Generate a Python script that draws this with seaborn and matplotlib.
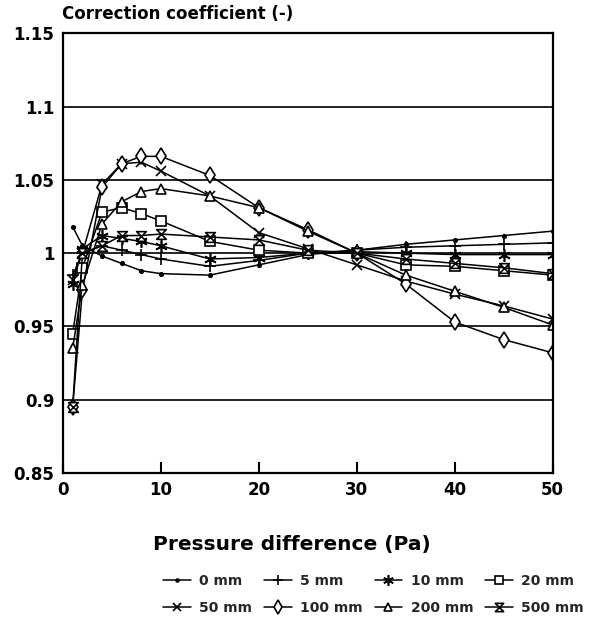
import numpy as np
import pandas as pd
import seaborn as sns
import matplotlib
matplotlib.use("Agg")
import matplotlib.pyplot as plt
from matplotlib.path import Path

x_pa = [1, 2, 4, 6, 8, 10, 15, 20, 25, 30, 35, 40, 45, 50]

s_0mm   = [1.018, 1.005, 0.998, 0.993, 0.988, 0.986, 0.985, 0.992, 0.999, 1.002, 1.006, 1.009, 1.012, 1.015]
s_5mm   = [0.985, 1.000, 1.005, 1.002, 0.999, 0.996, 0.991, 0.995, 1.000, 1.002, 1.004, 1.005, 1.006, 1.007]
s_10mm  = [0.979, 1.003, 1.012, 1.010, 1.008, 1.005, 0.996, 0.997, 1.000, 1.001, 1.000, 0.999, 0.999, 0.999]
s_20mm  = [0.945, 0.990, 1.028, 1.031, 1.027, 1.022, 1.008, 1.002, 1.000, 1.000, 0.992, 0.991, 0.988, 0.985]
s_50mm  = [0.982, 1.000, 1.047, 1.061, 1.062, 1.056, 1.039, 1.014, 1.003, 0.992, 0.981, 0.972, 0.964, 0.955]
s_100mm = [0.895, 0.975, 1.045, 1.061, 1.066, 1.066, 1.053, 1.031, 1.016, 1.000, 0.979, 0.953, 0.941, 0.932]
s_200mm = [0.935, 0.978, 1.020, 1.035, 1.042, 1.044, 1.039, 1.031, 1.015, 1.000, 0.985, 0.974, 0.963, 0.951]
s_500mm = [0.895, 1.000, 1.005, 1.012, 1.012, 1.013, 1.011, 1.009, 1.002, 1.000, 0.996, 0.993, 0.990, 0.986]

labels = ["0 mm", "5 mm", "10 mm", "20 mm", "50 mm", "100 mm", "200 mm", "500 mm"]
series = [s_0mm, s_5mm, s_10mm, s_20mm, s_50mm, s_100mm, s_200mm, s_500mm]

y_ticks = [0.85, 0.9, 0.95, 1.0, 1.05, 1.1, 1.15]
y_ticklabels = ["0.85", "0.9", "0.95", "1", "1.05", "1.1", "1.15"]
x_ticks = [0, 10, 20, 30, 40, 50]

hourglass = Path([(-1, 1), (1, 1), (-1, -1), (1, -1), (-1, 1)],
                 [Path.MOVETO, Path.LINETO, Path.LINETO, Path.LINETO, Path.CLOSEPOLY])
asterisk = (6, 2, 0)

styles = {
    "0 mm":   dict(marker="o", ms=2.5, mfc="black"),
    "5 mm":   dict(marker="+", ms=9, mfc="black"),
    "10 mm":  dict(marker=asterisk, ms=9, mfc="black"),
    "20 mm":  dict(marker="s", ms=6.5, mfc="white"),
    "50 mm":  dict(marker="x", ms=7, mfc="black"),
    "100 mm": dict(marker="d", ms=8, mfc="white"),
    "200 mm": dict(marker="^", ms=7.5, mfc="white"),
    "500 mm": dict(marker=hourglass, ms=7, mfc="white"),
}

sns.set_theme(style="white")
plt.rcParams["font.family"] = ["DejaVu Sans"]
plt.rcParams["font.weight"] = "bold"

fig = plt.figure(figsize=(5.93, 6.27), dpi=100)
ax = fig.add_axes([0.106, 0.2456, 0.826, 0.7014])

df = pd.DataFrame({"x": np.tile(x_pa, len(labels)),
                   "y": np.concatenate(series),
                   "series": np.repeat(labels, len(x_pa))})

for lab in labels:
    st = styles[lab]
    sub = df[df["series"] == lab]
    sns.lineplot(data=sub, x="x", y="y", ax=ax, color="black", linewidth=1.1,
                 marker=st["marker"], markersize=st["ms"], mfc=st["mfc"],
                 mec="black", mew=1.2, label=lab, errorbar=None)

for gy in [0.9, 0.95, 1.0, 1.05, 1.1]:
    ax.axhline(gy, color="black", lw=1.2, zorder=0)

ax.set_xlim(0, 50)
ax.set_ylim(0.85, 1.15)
ax.set_xticks(x_ticks)
ax.set_yticks(y_ticks)
ax.set_yticklabels(y_ticklabels)
ax.tick_params(axis="x", direction="in", length=8, width=1.5, labelsize=12, pad=6,
               colors="black", bottom=True)
ax.tick_params(axis="y", length=0, labelsize=12, pad=6, colors="black")
for t in ax.get_xticklabels() + ax.get_yticklabels():
    t.set_fontweight("bold")
for sp in ax.spines.values():
    sp.set_color("black")
    sp.set_linewidth(1.6)
ax.set_xlabel("")
ax.set_ylabel("")

fig.text(0.105, 0.977, "Correction coefficient (-)", fontsize=12, fontweight="bold",
         ha="left", va="center", color="black")
fig.text(0.493, 0.131, "Pressure difference (Pa)", fontsize=14.5, fontweight="bold",
         ha="center", va="center", color="black")

h, l = ax.get_legend_handles_labels()
d = dict(zip(l, h))
order = ["0 mm", "50 mm", "5 mm", "100 mm", "10 mm", "200 mm", "20 mm", "500 mm"]
ax.legend([d[o] for o in order], order, ncol=4, frameon=False,
          loc="upper left", bbox_to_anchor=(0.275, 0.085), bbox_transform=fig.transFigure,
          prop={"weight": "bold", "size": 10}, handlelength=2.0, columnspacing=0.85,
          labelspacing=0.95, handletextpad=0.6, borderpad=0, borderaxespad=0,
          markerscale=0.85)

fig.savefig("out.png", dpi=100)
